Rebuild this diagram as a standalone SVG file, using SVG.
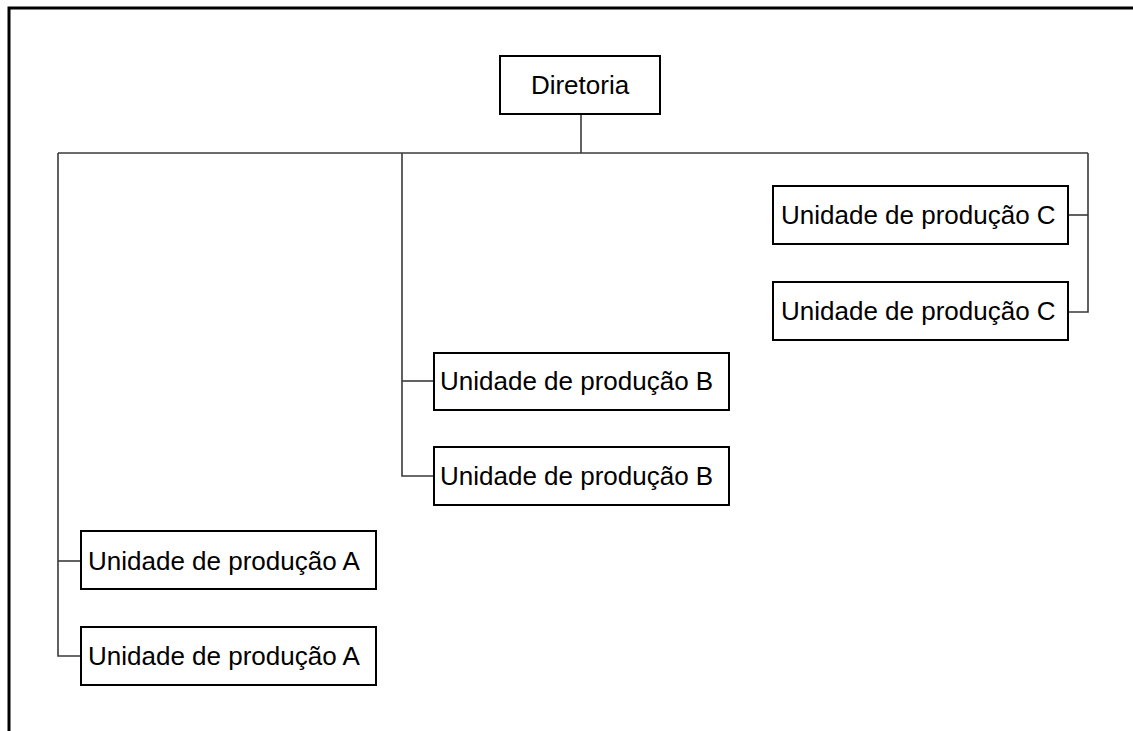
<svg xmlns="http://www.w3.org/2000/svg" width="1133" height="731" viewBox="0 0 1133 731">
  <style>
    .box { fill: #ffffff; stroke: #000000; stroke-width: 2; }
    .lbl { font-family: "Liberation Sans", Arial, sans-serif; font-size: 26px; fill: #000000; }
    .wire { fill: none; stroke: #3a3a3a; stroke-width: 1.6; }
    .frame { fill: none; stroke: #000000; stroke-width: 3; }
  </style>
  <rect width="1133" height="731" fill="#ffffff"/>
  <!-- outer page frame -->
  <path class="frame" d="M9 731 V8 H1133"/>

  <!-- connectors -->
  <g id="connectors">
    <path class="wire" d="M581 114 V153"/>
    <path class="wire" d="M58 153 H1088"/>
    <path class="wire" d="M1088 153 V312 H1068"/>
    <path class="wire" d="M1068 215 H1088"/>
    <path class="wire" d="M402 153 V476 H434"/>
    <path class="wire" d="M402 381 H434"/>
    <path class="wire" d="M58 153 V656 H81"/>
    <path class="wire" d="M58 561 H81"/>
  </g>

  <g id="diretoria">
    <rect class="box" x="500" y="56" width="160" height="58"/>
    <text class="lbl" x="580" y="94" text-anchor="middle">Diretoria</text>
  </g>

  <g id="unidade-c1">
    <rect class="box" x="773" y="186" width="295" height="58"/>
    <text class="lbl" x="781" y="224">Unidade de produção C</text>
  </g>
  <g id="unidade-c2">
    <rect class="box" x="773" y="282" width="295" height="58"/>
    <text class="lbl" x="781" y="320">Unidade de produção C</text>
  </g>

  <g id="unidade-b1">
    <rect class="box" x="434" y="353" width="295" height="57"/>
    <text class="lbl" x="440" y="390">Unidade de produção B</text>
  </g>
  <g id="unidade-b2">
    <rect class="box" x="434" y="447" width="295" height="58"/>
    <text class="lbl" x="440" y="485">Unidade de produção B</text>
  </g>

  <g id="unidade-a1">
    <rect class="box" x="81" y="531" width="295" height="58"/>
    <text class="lbl" x="88" y="570">Unidade de produção A</text>
  </g>
  <g id="unidade-a2">
    <rect class="box" x="81" y="627" width="295" height="58"/>
    <text class="lbl" x="88" y="665">Unidade de produção A</text>
  </g>
</svg>
